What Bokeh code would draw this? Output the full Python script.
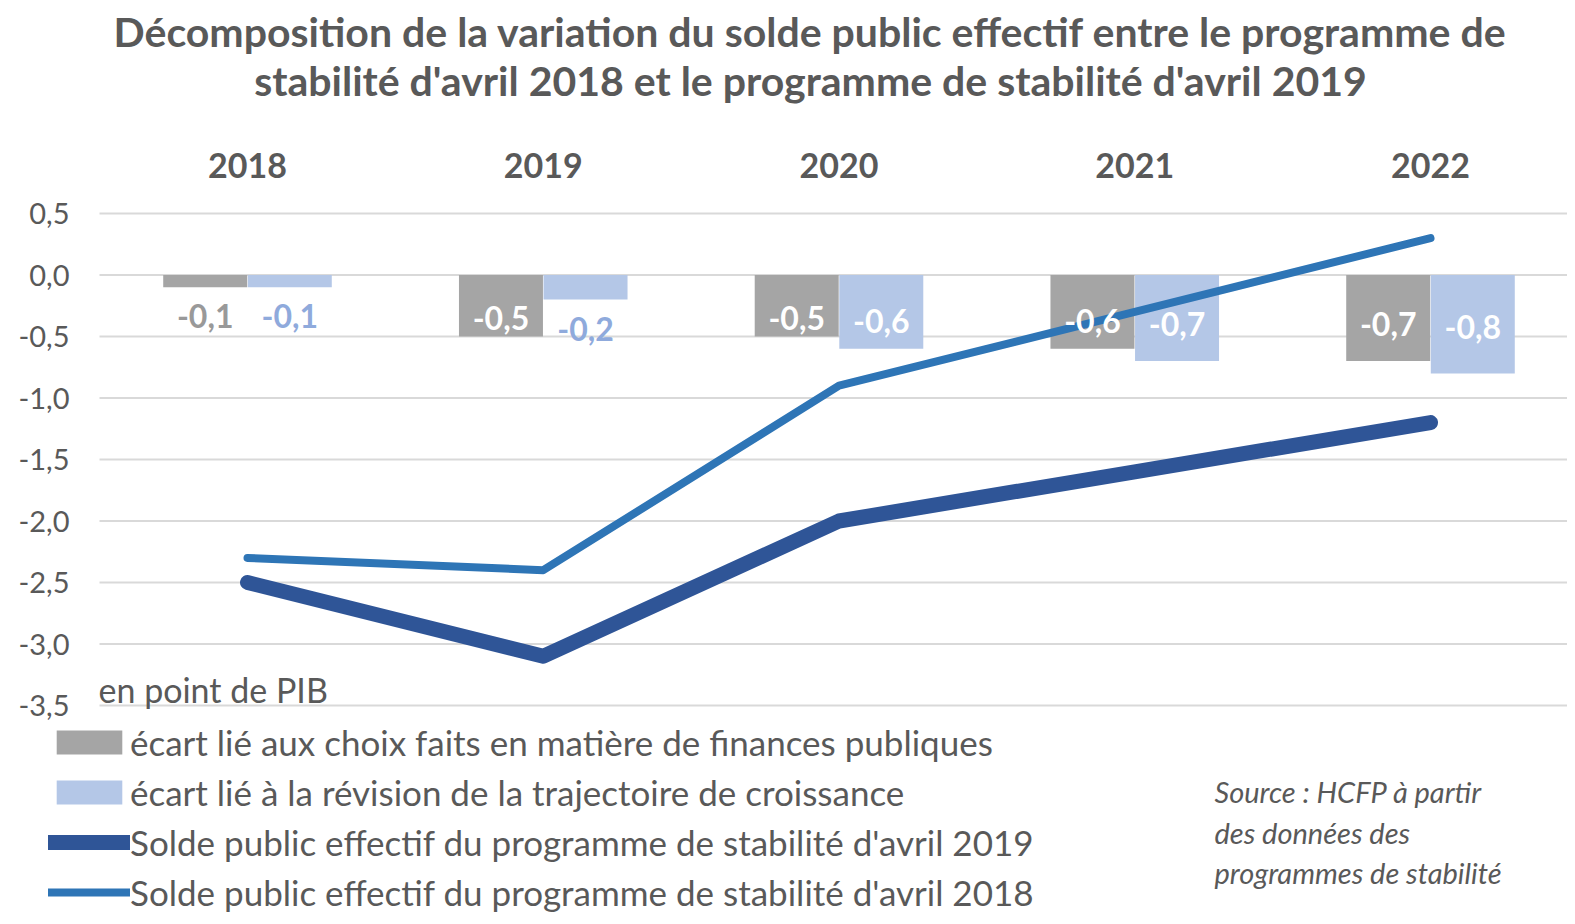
from bokeh.plotting import figure
from bokeh.models import ColumnDataSource, Range1d, FixedTicker, Label, Legend, LegendItem
from bokeh.embed import file_html
from bokeh.resources import INLINE
from bokeh.core.properties import value

# ---------------- data ----------------
years = ["2018", "2019", "2020", "2021", "2022"]
ecart_choix = [-0.1, -0.5, -0.5, -0.6, -0.7]          # grey bars
ecart_croissance = [-0.1, -0.2, -0.6, -0.7, -0.8]     # light blue bars
solde_pstab_2019 = [-2.5, -3.1, -2.0, -1.6, -1.2]     # thick dark blue line
solde_pstab_2018 = [-2.3, -2.4, -0.9, -0.3, 0.3]      # medium blue line
y_ticks = [0.5, 0.0, -0.5, -1.0, -1.5, -2.0, -2.5, -3.0, -3.5]
y_tick_labels = ["0,5", "0,0", "-0,5", "-1,0", "-1,5", "-2,0", "-2,5", "-3,0", "-3,5"]

legend_labels = [
    "écart lié aux choix faits en matière de finances publiques",
    "écart lié à la révision de la trajectoire de croissance",
    "Solde public effectif du programme de stabilité d'avril 2019",
    "Solde public effectif du programme de stabilité d'avril 2018",
]
title_lines = [
    "Décomposition de la variation du solde public effectif entre le programme de",
    "stabilité d'avril 2018 et le programme de stabilité d'avril 2019",
]
unit_label = "en point de PIB"
source_lines = ["Source : HCFP à partir", "des données des", "programmes de stabilité"]

# ---------------- style / layout ----------------
FONT = "Lato"
TXT = "#595959"
GREY = "#a5a5a5"
LBLUE = "#b4c7e7"
DBLUE = "#2f5597"
MBLUE = "#2e75b6"
GREY_TXT = "#999999"
LBLUE_TXT = "#8faadc"

W, H = 1567, 916
FR_L, FR_T, FR_R, FR_B = 20, 10, W, H          # frame box in canvas pixels
PX_X = 295.75                                   # pixels per category
X0_PX = 247                                     # pixel of first category
PX_Y = 123.0                                    # pixels per y unit
Y05_PX = 213                                    # pixel of y = 0.5
GRID_LEFT_PX = 99

x_start = (FR_L - X0_PX) / PX_X
x_end = (FR_R - X0_PX) / PX_X
y_end = 0.5 + (Y05_PX - FR_T) / PX_Y
y_start = 0.5 - (FR_B - Y05_PX) / PX_Y

p = figure(width=W, height=H, output_backend="svg", toolbar_location=None,
           x_range=Range1d(x_start, x_end), y_range=Range1d(y_start, y_end),
           x_axis_location="above", min_border_left=FR_L, min_border_right=0,
           min_border_top=FR_T, min_border_bottom=0)
p.outline_line_color = None
p.background_fill_color = "white"
p.border_fill_color = "white"

# horizontal gridlines at the tick values, starting at the plot-area left edge
grid_x0 = (GRID_LEFT_PX - X0_PX) / PX_X
p.segment(x0=[grid_x0] * len(y_ticks), x1=[x_end] * len(y_ticks), y0=y_ticks, y1=y_ticks,
          line_color="#d9d9d9", line_width=2)

xs = list(range(len(years)))
off = 0.143
bw = 0.284

src_a = ColumnDataSource(dict(x=[i - off for i in xs], top=[0] * len(xs), bottom=ecart_choix))
src_b = ColumnDataSource(dict(x=[i + off for i in xs], top=[0] * len(xs), bottom=ecart_croissance))
r_a = p.vbar(x="x", width=bw, top="top", bottom="bottom", source=src_a, fill_color=GREY, line_color=None)
r_b = p.vbar(x="x", width=bw, top="top", bottom="bottom", source=src_b, fill_color=LBLUE, line_color=None)

r_l19 = p.line(xs, solde_pstab_2019, line_color=DBLUE, line_width=15, line_cap="round", line_join="round")
r_l18 = p.line(xs, solde_pstab_2018, line_color=MBLUE, line_width=8, line_cap="round", line_join="round")


def fmt(v):
    return f"{v:.1f}".replace(".", ",")


def label_anchor(v):
    # inside-end labels for long bars, just below the bar for short ones
    return 0.23 * v - 0.235 if abs(v) >= 0.3 else v - 0.235


lx, ly, lt, lc = [], [], [], []
for vals, sign, outc in ((ecart_choix, -1, GREY_TXT), (ecart_croissance, 1, LBLUE_TXT)):
    for i, v in enumerate(vals):
        lx.append(i + sign * off)
        ly.append(label_anchor(v))
        lt.append(fmt(v))
        lc.append("white" if abs(v) >= 0.3 else outc)
p.text(x="x", y="y", text="t", text_color="c",
       source=ColumnDataSource(dict(x=lx, y=ly, t=lt, c=lc)),
       text_align="center", text_baseline="alphabetic", text_font=value(FONT),
       text_font_size="32px", text_font_style="bold")

# axes
yax = p.yaxis[0]
yax.ticker = FixedTicker(ticks=y_ticks)
yax.major_label_overrides = {t: l for t, l in zip(y_ticks, y_tick_labels)}
yax.axis_line_color = None
yax.major_tick_line_color = None
yax.minor_tick_line_color = None
yax.major_tick_out = 0
yax.major_tick_in = 0
yax.major_label_standoff = FR_L - 69
yax.major_label_text_font = FONT
yax.major_label_text_font_size = "29px"
yax.major_label_text_color = TXT

xax = p.xaxis[0]
xax.ticker = FixedTicker(ticks=xs)
xax.major_label_overrides = {i: y for i, y in zip(xs, years)}
xax.axis_line_color = None
xax.major_tick_line_color = None
xax.minor_tick_line_color = None
xax.major_tick_out = 0
xax.major_tick_in = 0
xax.major_label_standoff = FR_T - 177
xax.major_label_text_font = FONT
xax.major_label_text_font_size = "34px"
xax.major_label_text_font_style = "bold"
xax.major_label_text_color = TXT

p.xgrid.grid_line_color = None
p.ygrid.grid_line_color = None


# frame-relative screen coordinates (origin = frame bottom-left, y up)
def sx(x):
    return x - FR_L


def sy(y):
    return FR_B - y


for t, base in zip(title_lines, [31, 80]):
    p.add_layout(Label(x=sx(810), y=sy(base), x_units="screen", y_units="screen", text=t,
                       text_align="center", text_baseline="alphabetic", text_font=FONT,
                       text_font_size="41px", text_font_style="bold", text_color=TXT))

p.add_layout(Label(x=sx(98), y=sy(689), x_units="screen", y_units="screen", text=unit_label,
                   text_align="left", text_baseline="alphabetic", text_font=FONT,
                   text_font_size="34px", text_color=TXT))

for t, base in zip(source_lines, [791, 832, 872]):
    p.add_layout(Label(x=sx(1214), y=sy(base), x_units="screen", y_units="screen", text=t,
                       text_align="left", text_baseline="alphabetic", text_font=FONT,
                       text_font_size="29px", text_font_style="italic", text_color=TXT))

legend = Legend(items=[
    LegendItem(label=legend_labels[0], renderers=[r_a]),
    LegendItem(label=legend_labels[1], renderers=[r_b]),
    LegendItem(label=legend_labels[2], renderers=[r_l19]),
    LegendItem(label=legend_labels[3], renderers=[r_l18]),
], location=(sx(48), 3), orientation="vertical")
legend.glyph_width = 82
legend.glyph_height = 30
legend.label_height = 30
legend.label_standoff = 0
legend.spacing = 8
legend.padding = 0
legend.margin = 0
legend.border_line_color = None
legend.background_fill_alpha = 0
legend.label_text_font = FONT
legend.label_text_font_size = "35px"
legend.label_text_color = TXT
p.add_layout(legend, "center")

open("out.html", "w").write(file_html(p, INLINE))
